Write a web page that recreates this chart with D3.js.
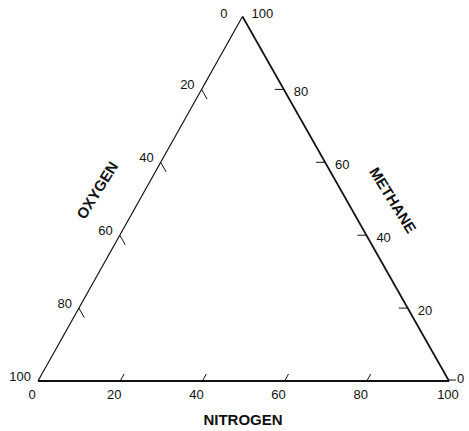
<!DOCTYPE html>
<html>
<head>
<meta charset="utf-8">
<script src="https://cdn.jsdelivr.net/npm/d3@7"></script>
<style>
  html, body { margin: 0; padding: 0; background: #fff; }
  svg { display: block; }
  text { font-family: "Liberation Sans", Arial, Helvetica, sans-serif; fill: #111; }
</style>
</head>
<body>
<script>
// ---- data ----
const axisNames = ["NITROGEN", "OXYGEN", "METHANE"];
const tickLabels = [0, 20, 40, 60, 80, 100];
const tickMarks = [20, 40, 60, 80];

const W = 469, H = 431;
const svg = d3.select("body").append("svg").attr("width", W).attr("height", H);

// triangle vertices (layout)
const T = [242.5, 16.5], BL = [38, 381], BR = [449, 381];

// scales along each side (value 0..100)
const sx = (a, b) => d3.scaleLinear().domain([0, 100]).range([a[0], b[0]]);
const sy = (a, b) => d3.scaleLinear().domain([0, 100]).range([a[1], b[1]]);
// Nitrogen: bottom side, 0 at BL -> 100 at BR
const nX = sx(BL, BR), nY = sy(BL, BR);
// Oxygen: left side, 0 at top -> 100 at BL
const oX = sx(T, BL), oY = sy(T, BL);
// Methane: right side, 0 at BR -> 100 at top
const mX = sx(BR, T), mY = sy(BR, T);

const g = svg.append("g");

// triangle sides
g.append("line").attr("x1", T[0]).attr("y1", T[1]).attr("x2", BL[0]).attr("y2", BL[1])
  .attr("stroke", "#111").attr("stroke-width", 1.2);
g.append("line").attr("x1", T[0]).attr("y1", T[1]).attr("x2", BR[0]).attr("y2", BR[1])
  .attr("stroke", "#111").attr("stroke-width", 1.7);
g.append("line").attr("x1", BL[0]).attr("y1", BL[1]).attr("x2", BR[0]).attr("y2", BR[1])
  .attr("stroke", "#111").attr("stroke-width", 2);

// unit direction vectors for inward ticks
function unit(a, b) { const dx = b[0]-a[0], dy = b[1]-a[1], l = Math.hypot(dx, dy); return [dx/l, dy/l]; }
const dirO = unit(T, BR);      // oxygen ticks parallel to right side
const dirN = unit(BL, T);      // nitrogen ticks parallel to left side
const dirM = [-1, 0];          // methane ticks horizontal

// Oxygen ticks
g.selectAll(".otick").data(tickMarks).join("line")
  .attr("x1", d => oX(d)).attr("y1", d => oY(d))
  .attr("x2", d => oX(d) + dirO[0]*11).attr("y2", d => oY(d) + dirO[1]*11)
  .attr("stroke", "#111").attr("stroke-width", 1);
// Nitrogen ticks
g.selectAll(".ntick").data(tickMarks).join("line")
  .attr("x1", d => nX(d)).attr("y1", d => nY(d))
  .attr("x2", d => nX(d) + dirN[0]*8).attr("y2", d => nY(d) + dirN[1]*8)
  .attr("stroke", "#111").attr("stroke-width", 1);
// Methane ticks
g.selectAll(".mtick").data(tickMarks).join("line")
  .attr("x1", d => mX(d)).attr("y1", d => mY(d))
  .attr("x2", d => mX(d) + dirM[0]*9).attr("y2", d => mY(d) + dirM[1]*9)
  .attr("stroke", "#111").attr("stroke-width", 1);
// small outward tick at methane 0
g.append("line").attr("x1", mX(0)).attr("y1", mY(0) - 1).attr("x2", mX(0) + 7).attr("y2", mY(0) - 1)
  .attr("stroke", "#111").attr("stroke-width", 1);

const fs = 13;
// Oxygen labels (left of left side)
g.selectAll(".olab").data(tickLabels).join("text")
  .attr("x", d => oX(d) - (d === 0 ? 15 : 7))
  .attr("y", d => oY(d) - (d === 0 ? 3 : 5))
  .attr("text-anchor", "end").attr("dominant-baseline", "central")
  .attr("font-size", fs).text(d => d);
// Methane labels (right of right side)
g.selectAll(".mlab").data(tickLabels).join("text")
  .attr("x", d => mX(d) + (d === 100 ? 9 : (d === 0 ? 8 : 10)))
  .attr("y", d => mY(d) + (d === 100 ? -3 : (d === 0 ? -3 : 2)))
  .attr("text-anchor", "start").attr("dominant-baseline", "central")
  .attr("font-size", fs).text(d => d);
// Nitrogen labels (below base)
g.selectAll(".nlab").data(tickLabels).join("text")
  .attr("x", d => nX(d) - (d === 100 ? 1 : 6))
  .attr("y", d => nY(d) + 13)
  .attr("text-anchor", "middle").attr("dominant-baseline", "central")
  .attr("font-size", fs).text(d => d);

// axis titles
g.append("text").attr("transform", "translate(97,190) rotate(-58)")
  .attr("text-anchor", "middle").attr("dominant-baseline", "central")
  .attr("font-size", 15).attr("font-weight", "bold").text(axisNames[1]);
g.append("text").attr("transform", "translate(393,200) rotate(58)")
  .attr("text-anchor", "middle").attr("dominant-baseline", "central")
  .attr("font-size", 15).attr("font-weight", "bold").text(axisNames[2]);
g.append("text").attr("x", 243).attr("y", 419)
  .attr("text-anchor", "middle").attr("dominant-baseline", "central")
  .attr("font-size", 15).attr("font-weight", "bold").text(axisNames[0]);
</script>
</body>
</html>
